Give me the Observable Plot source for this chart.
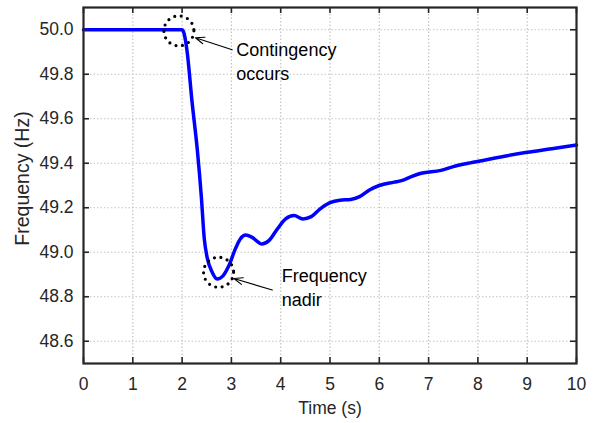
<!DOCTYPE html>
<html>
<head>
<meta charset="utf-8">
<script src="https://cdn.jsdelivr.net/npm/d3@7"></script>
<script src="https://cdn.jsdelivr.net/npm/@observablehq/plot@0.6"></script>
<style>
  body { margin: 0; background: #fff; }
  svg { display: block; }
</style>
</head>
<body>
<div id="chart"></div>
<script>
// Grid frequency response after a generation contingency
const time = [0, 1, 2, 2.03, 2.10, 2.20, 2.31, 2.39, 2.45, 2.51, 2.61, 2.71, 2.83, 2.95, 3.08, 3.18, 3.29, 3.42, 3.62, 3.76, 3.93, 4.10, 4.27, 4.45, 4.62, 4.80, 5.00, 5.20, 5.42, 5.60, 5.80, 6.00, 6.30, 6.45, 6.65, 6.85, 7.25, 7.50, 7.80, 8.15, 8.60, 9.00, 9.50, 10.00];
const frequency = [50.0, 50.0, 50.0, 49.99, 49.905, 49.68, 49.457, 49.25, 49.06, 48.975, 48.91, 48.88, 48.894, 48.94, 49.015, 49.06, 49.077, 49.067, 49.037, 49.052, 49.104, 49.15, 49.165, 49.15, 49.16, 49.195, 49.223, 49.234, 49.237, 49.25, 49.28, 49.30, 49.315, 49.322, 49.34, 49.355, 49.368, 49.385, 49.40, 49.415, 49.434, 49.449, 49.465, 49.482];

const xTicks = [0, 1, 2, 3, 4, 5, 6, 7, 8, 9, 10];
const yTicks = [48.6, 48.8, 49.0, 49.2, 49.4, 49.6, 49.8, 50.0];

// Highlighted events: dotted ring, arrow from the note, and the note text
const eventNames = ["Contingency\noccurs", "Frequency\nnadir"];
const ringTime = [1.935, 2.74];
const ringFreq = [49.995, 48.91];
const arrowFrom = [[3.016, 49.91], [3.83, 48.83]];
const arrowTo = [[2.27, 49.964], [3.05, 48.882]];
const notePos = [[3.10, 49.863], [4.02, 48.848]];

const W = 598, H = 423;
const mL = 83, mR = 22, mT = 7, mB = 60;
const innerW = W - mL - mR, innerH = H - mT - mB;
const ink = "#262626";
const font = "'Liberation Sans', Arial, Helvetica, sans-serif";

const series = time.map((t, i) => ({t, f: frequency[i]}));
const events = eventNames.map((name, i) => ({
  name,
  rx: ringTime[i], ry: ringFreq[i],
  x1: arrowFrom[i][0], y1: arrowFrom[i][1],
  x2: arrowTo[i][0], y2: arrowTo[i][1],
  tx: notePos[i][0], ty: notePos[i][1]
}));

const chart = Plot.plot({
  width: W,
  height: H,
  marginLeft: mL,
  marginRight: mR,
  marginTop: mT,
  marginBottom: mB,
  style: {fontFamily: font, background: "#fff", overflow: "visible"},
  x: {domain: [0, 10], axis: null},
  y: {domain: [48.5, 50.1], axis: null},
  marks: [
    // dotted grid
    Plot.ruleX(xTicks.slice(1, -1), {x: d => d, stroke: "#c4c4c4", strokeWidth: 1.2, strokeDasharray: "1.5,2"}),
    Plot.ruleY(yTicks, {y: d => d, stroke: "#c4c4c4", strokeWidth: 1.2, strokeDasharray: "1.5,2"}),
    // frequency trace
    Plot.line(series, {x: "t", y: "f", stroke: "#0000ff", strokeWidth: 3.5, curve: "monotone-x", strokeLinejoin: "round"}),
    // event rings and callouts
    Plot.dot(events, {x: "rx", y: "ry", r: 15, fill: "none", stroke: "#000", strokeWidth: 3.2, strokeDasharray: "0,6.6", strokeLinecap: "round"}),
    Plot.arrow(events, {x1: "x1", y1: "y1", x2: "x2", y2: "y2", stroke: "#000", strokeWidth: 1.1, headLength: 13, headAngle: 42}),
    Plot.text(events, {x: "tx", y: "ty", text: "name", textAnchor: "start", lineAnchor: "middle", lineHeight: 1.35, fontSize: 18, fill: "#000"}),
    // inward ticks on all four sides
    Plot.tickX(xTicks, {x: d => d, insetTop: innerH - 6, stroke: ink, strokeWidth: 1.6}),
    Plot.tickX(xTicks, {x: d => d, insetBottom: innerH - 6, stroke: ink, strokeWidth: 1.6}),
    Plot.tickY(yTicks, {y: d => d, insetRight: innerW - 6, stroke: ink, strokeWidth: 1.6}),
    Plot.tickY(yTicks, {y: d => d, insetLeft: innerW - 6, stroke: ink, strokeWidth: 1.6}),
    Plot.frame({stroke: ink, strokeWidth: 2.2}),
    // tick labels
    Plot.text(xTicks, {x: d => d, frameAnchor: "bottom", lineAnchor: "middle", dy: 21, text: d => String(d), fontSize: 17.5, fill: ink}),
    Plot.text(yTicks, {y: d => d, frameAnchor: "left", dx: -10, textAnchor: "end", lineAnchor: "middle", text: d => d3.format(".1f")(d), fontSize: 17.5, fill: ink}),
    // axis titles
    Plot.text(["Time (s)"], {frameAnchor: "bottom", lineAnchor: "middle", textAnchor: "middle", dy: 45, text: d => d, fontSize: 17.5, fill: ink}),
    Plot.text(["Frequency (Hz)"], {frameAnchor: "left", lineAnchor: "middle", textAnchor: "middle", dx: -61, dy: -7, rotate: -90, text: d => d, fontSize: 19.5, fill: ink})
  ]
});

document.getElementById("chart").appendChild(chart);
</script>
</body>
</html>
